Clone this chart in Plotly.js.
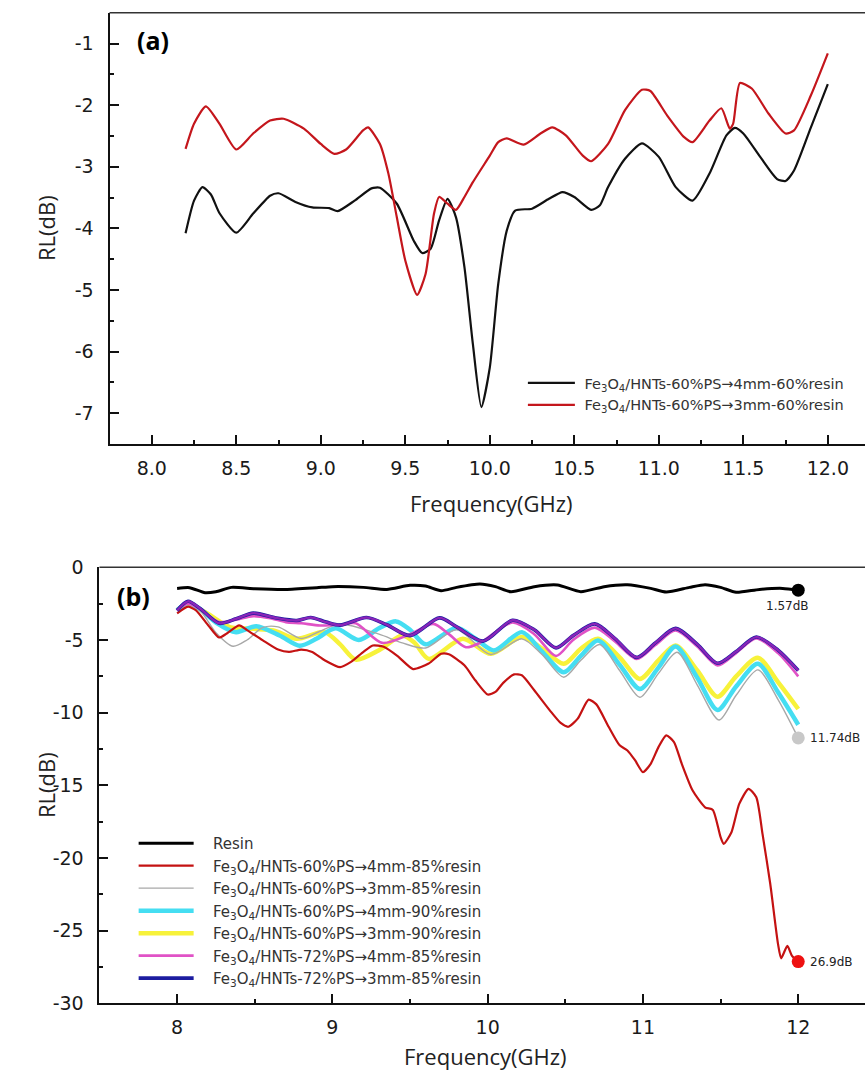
<!DOCTYPE html>
<html>
<head>
<meta charset="utf-8">
<script src="https://cdn.plot.ly/plotly-3.0.1.min.js"></script>
<style>html,body{margin:0;padding:0;background:#fff;}#chart{width:865px;height:1070px;}</style>
</head>
<body>
<div id="chart"></div>
<script>
// ---------- Panel (a) data ----------
var freqA4 = [8.2, 8.25, 8.3, 8.35, 8.4, 8.5, 8.6, 8.7, 8.75, 8.85, 8.95, 9.05, 9.1, 9.2, 9.3, 9.35, 9.45, 9.55, 9.6, 9.65, 9.7, 9.75, 9.8, 9.85, 9.9, 9.95, 10.0, 10.05, 10.1, 10.15, 10.25, 10.35, 10.43, 10.5, 10.6, 10.65, 10.7, 10.8, 10.9, 11.0, 11.1, 11.2, 11.3, 11.4, 11.45, 11.5, 11.6, 11.7, 11.75, 11.8, 11.9, 12.0];
var rlA4 = [-4.08, -3.55, -3.33, -3.45, -3.75, -4.07, -3.76, -3.47, -3.43, -3.57, -3.66, -3.67, -3.72, -3.55, -3.35, -3.34, -3.6, -4.2, -4.4, -4.33, -3.87, -3.52, -3.82, -4.63, -5.88, -6.9, -6.26, -4.9, -4.04, -3.71, -3.68, -3.52, -3.41, -3.49, -3.7, -3.63, -3.33, -2.87, -2.62, -2.84, -3.33, -3.55, -3.11, -2.49, -2.37, -2.46, -2.84, -3.2, -3.23, -3.06, -2.36, -1.66];
var freqA3 = [8.2, 8.25, 8.32, 8.4, 8.5, 8.6, 8.7, 8.78, 8.9, 9.0, 9.08, 9.15, 9.25, 9.28, 9.35, 9.4, 9.45, 9.5, 9.57, 9.62, 9.67, 9.7, 9.75, 9.8, 9.85, 9.9, 10.0, 10.05, 10.1, 10.2, 10.3, 10.37, 10.45, 10.55, 10.6, 10.7, 10.8, 10.9, 10.95, 11.05, 11.15, 11.2, 11.3, 11.37, 11.42, 11.44, 11.48, 11.55, 11.65, 11.75, 11.8, 11.9, 12.0];
var rlA3 = [-2.71, -2.3, -2.02, -2.3, -2.72, -2.46, -2.25, -2.22, -2.38, -2.63, -2.79, -2.72, -2.41, -2.36, -2.63, -3.11, -3.82, -4.52, -5.08, -4.74, -3.76, -3.49, -3.6, -3.7, -3.49, -3.25, -2.82, -2.6, -2.54, -2.64, -2.46, -2.36, -2.49, -2.82, -2.91, -2.63, -2.08, -1.75, -1.77, -2.17, -2.52, -2.6, -2.25, -2.05, -2.38, -2.3, -1.64, -1.73, -2.14, -2.46, -2.41, -1.84, -1.16];
var namesA = ["Fe<sub>3</sub>O<sub>4</sub>/HNTs-60%PS\u21924mm-60%resin", "Fe<sub>3</sub>O<sub>4</sub>/HNTs-60%PS\u21923mm-60%resin"];

// ---------- Panel (b) data ----------
var freqResin = [8.0, 8.08, 8.18, 8.25, 8.35, 8.5, 8.7, 8.9, 9.0, 9.2, 9.35, 9.5, 9.6, 9.7, 9.8, 9.95, 10.05, 10.15, 10.3, 10.45, 10.6, 10.75, 10.9, 11.05, 11.15, 11.3, 11.4, 11.5, 11.6, 11.75, 11.9, 12.0];
var rlResin = [-1.45, -1.4, -1.75, -1.68, -1.38, -1.47, -1.52, -1.4, -1.33, -1.38, -1.52, -1.24, -1.29, -1.61, -1.38, -1.15, -1.33, -1.68, -1.33, -1.22, -1.68, -1.33, -1.2, -1.45, -1.7, -1.38, -1.2, -1.38, -1.72, -1.52, -1.45, -1.57];

var freqR485 = [8.0, 8.07, 8.12, 8.2, 8.27, 8.32, 8.4, 8.45, 8.55, 8.65, 8.72, 8.8, 8.87, 8.95, 9.05, 9.12, 9.2, 9.26, 9.33, 9.42, 9.52, 9.62, 9.7, 9.75, 9.85, 9.92, 10.0, 10.05, 10.1, 10.17, 10.22, 10.3, 10.4, 10.47, 10.52, 10.58, 10.65, 10.7, 10.78, 10.85, 10.9, 10.95, 11.0, 11.05, 11.1, 11.15, 11.2, 11.25, 11.32, 11.4, 11.45, 11.5, 11.52, 11.57, 11.62, 11.68, 11.73, 11.77, 11.82, 11.87, 11.89, 11.93, 11.96, 12.0];
var rlR485 = [-3.17, -2.71, -2.94, -3.98, -4.83, -4.55, -4.0, -4.32, -5.01, -5.66, -5.82, -5.66, -5.82, -6.39, -6.87, -6.51, -5.82, -5.38, -5.47, -6.11, -7.0, -6.62, -5.95, -5.98, -6.74, -7.77, -8.75, -8.57, -7.95, -7.37, -7.43, -8.46, -9.84, -10.71, -10.97, -10.41, -9.1, -9.43, -10.99, -12.25, -12.6, -13.29, -14.09, -13.52, -12.37, -11.56, -12.02, -13.52, -15.36, -16.51, -16.69, -18.57, -19.03, -18.23, -16.28, -15.24, -15.82, -18.34, -21.79, -25.93, -26.9, -26.05, -26.74, -27.13];

var freqG385 = [8.0, 8.07, 8.15, 8.25, 8.36, 8.45, 8.55, 8.65, 8.8, 8.92, 9.05, 9.3, 9.45, 9.6, 9.8, 10.02, 10.22, 10.35, 10.49, 10.6, 10.72, 10.85, 10.98, 11.1, 11.22, 11.35, 11.49, 11.6, 11.74, 11.87, 12.0];
var rlG385 = [-3.0, -2.55, -3.0, -4.5, -5.43, -5.0, -4.15, -4.1, -4.9, -4.4, -3.9, -4.6, -5.2, -5.55, -4.3, -6.0, -4.92, -6.0, -7.56, -6.4, -5.31, -7.1, -8.94, -7.3, -5.84, -8.1, -10.51, -8.8, -7.06, -9.1, -11.74];

var freqC490 = [8.0, 8.07, 8.15, 8.25, 8.38, 8.51, 8.66, 8.79, 8.9, 9.02, 9.17, 9.3, 9.41, 9.5, 9.6, 9.8, 9.92, 10.04, 10.22, 10.35, 10.49, 10.6, 10.71, 10.85, 10.98, 11.1, 11.21, 11.35, 11.48, 11.6, 11.74, 11.87, 12.0];
var rlC490 = [-2.95, -2.45, -2.9, -3.8, -4.46, -4.05, -4.69, -5.4, -4.9, -4.2, -5.0, -4.2, -3.72, -4.3, -5.3, -4.15, -4.9, -5.72, -4.46, -5.8, -7.22, -6.1, -5.03, -6.7, -8.37, -6.9, -5.45, -7.6, -9.82, -8.2, -6.64, -8.6, -10.83];

var freqY390 = [8.0, 8.07, 8.15, 8.22, 8.34, 8.49, 8.62, 8.77, 8.95, 9.05, 9.15, 9.3, 9.45, 9.53, 9.62, 9.84, 10.02, 10.22, 10.35, 10.49, 10.6, 10.71, 10.85, 10.98, 11.1, 11.21, 11.35, 11.48, 11.6, 11.74, 11.87, 12.0];
var rlY390 = [-2.95, -2.5, -2.9, -3.35, -4.11, -4.23, -4.35, -4.92, -4.46, -5.3, -6.35, -5.7, -4.69, -5.2, -6.3, -4.92, -5.95, -4.8, -5.6, -6.64, -5.6, -4.92, -6.2, -7.68, -6.4, -5.38, -7.1, -8.9, -7.5, -6.23, -7.9, -9.75];

var freqM485 = [8.0, 8.07, 8.15, 8.27, 8.38, 8.49, 8.6, 8.7, 8.8, 8.92, 9.05, 9.15, 9.32, 9.5, 9.65, 9.75, 9.86, 9.95, 10.16, 10.3, 10.44, 10.55, 10.69, 10.82, 10.96, 11.08, 11.21, 11.35, 11.48, 11.6, 11.73, 11.87, 12.0];
var rlM485 = [-2.9, -2.5, -2.9, -3.77, -3.6, -3.36, -3.5, -3.77, -3.85, -4.0, -3.95, -3.85, -5.2, -4.6, -3.89, -4.6, -5.5, -5.2, -3.8, -4.6, -6.1, -5.0, -4.15, -5.1, -6.3, -5.35, -4.35, -5.45, -6.75, -5.9, -4.9, -5.9, -7.5];

var freqP385 = [8.0, 8.07, 8.15, 8.27, 8.38, 8.49, 8.64, 8.77, 8.86, 8.96, 9.05, 9.22, 9.35, 9.5, 9.69, 9.8, 9.97, 10.16, 10.3, 10.44, 10.55, 10.69, 10.82, 10.96, 11.08, 11.21, 11.35, 11.48, 11.6, 11.73, 11.87, 12.0];
var rlP385 = [-2.97, -2.34, -2.85, -3.85, -3.54, -3.15, -3.49, -3.66, -3.45, -3.77, -3.98, -3.45, -3.95, -4.7, -3.48, -4.1, -5.08, -3.64, -4.3, -5.54, -4.7, -3.89, -4.9, -6.2, -5.2, -4.2, -5.3, -6.6, -5.8, -4.8, -5.7, -7.1];

var namesB = ["Resin",
  "Fe<sub>3</sub>O<sub>4</sub>/HNTs-60%PS\u21924mm-85%resin",
  "Fe<sub>3</sub>O<sub>4</sub>/HNTs-60%PS\u21923mm-85%resin",
  "Fe<sub>3</sub>O<sub>4</sub>/HNTs-60%PS\u21924mm-90%resin",
  "Fe<sub>3</sub>O<sub>4</sub>/HNTs-60%PS\u21923mm-90%resin",
  "Fe<sub>3</sub>O<sub>4</sub>/HNTs-72%PS\u21924mm-85%resin",
  "Fe<sub>3</sub>O<sub>4</sub>/HNTs-72%PS\u21923mm-85%resin"];
var endLabels = ["1.57dB", "11.74dB", "26.9dB"];

// ---------- tick labels ----------
var ticksAx = [8.0, 8.5, 9.0, 9.5, 10.0, 10.5, 11.0, 11.5, 12.0];
var ticksAxText = ["8.0", "8.5", "9.0", "9.5", "10.0", "10.5", "11.0", "11.5", "12.0"];
var ticksAy = [-1, -2, -3, -4, -5, -6, -7];
var ticksAyText = ["-1", "-2", "-3", "-4", "-5", "-6", "-7"];
var ticksBx = [8, 9, 10, 11, 12];
var ticksBxText = ["8", "9", "10", "11", "12"];
var ticksBy = [0, -5, -10, -15, -20, -25, -30];
var ticksByText = ["0", "-5", "-10", "-15", "-20", "-25", "-30"];

function last(a) { return a[a.length - 1]; }
var padA = "\u00a0";
var padB = "\u00a0\u00a0\u00a0";

var tickFont = {family: "DejaVu Sans", size: 19, color: "#1a1a1a"};
var titleFont = {family: "Open Sans", size: 22, color: "#222"};

var traces = [
  {x: freqA4, y: rlA4, xaxis: "x", yaxis: "y", mode: "lines", name: padA + namesA[0], line: {color: "#111111", width: 2.2, shape: "spline", smoothing: 0.6}, legend: "legend"},
  {x: freqA3, y: rlA3, xaxis: "x", yaxis: "y", mode: "lines", name: padA + namesA[1], line: {color: "#c4161c", width: 2.2, shape: "spline", smoothing: 0.6}, legend: "legend"},

  {x: freqY390, y: rlY390, xaxis: "x2", yaxis: "y2", mode: "lines", name: padB + namesB[4], legendrank: 5, legendgroup: "g5", line: {color: "#f7f23a", width: 4.5, shape: "spline", smoothing: 0.8}, legend: "legend2"},
  {x: freqC490, y: rlC490, xaxis: "x2", yaxis: "y2", mode: "lines", name: padB + namesB[3], legendrank: 4, legendgroup: "g4", line: {color: "#45def2", width: 4.5, shape: "spline", smoothing: 0.8}, legend: "legend2"},
  {x: freqG385, y: rlG385, xaxis: "x2", yaxis: "y2", mode: "lines", name: padB + namesB[2], legendrank: 3, legendgroup: "g3", line: {color: "#a8a8a8", width: 1.4, shape: "spline", smoothing: 0.8}, legend: "legend2"},
  {x: freqR485, y: rlR485, xaxis: "x2", yaxis: "y2", mode: "lines", name: padB + namesB[1], legendrank: 2, legendgroup: "g2", line: {color: "#c41212", width: 2.2, shape: "spline", smoothing: 0.6}, legend: "legend2"},
  {x: freqM485, y: rlM485, xaxis: "x2", yaxis: "y2", mode: "lines", name: padB + namesB[5], legendrank: 6, legendgroup: "g6", line: {color: "#e052c6", width: 2.6, shape: "spline", smoothing: 0.8}, legend: "legend2"},
  {x: freqP385, y: rlP385, xaxis: "x2", yaxis: "y2", mode: "lines", name: padB + namesB[6], legendrank: 7, legendgroup: "g7", line: {color: "#1c1ca0", width: 3.6, shape: "spline", smoothing: 0.8}, legend: "legend2"},
  {x: freqP385, y: rlP385, xaxis: "x2", yaxis: "y2", mode: "lines", showlegend: false, hoverinfo: "skip", line: {color: "#8a24b8", width: 2.4, shape: "spline", smoothing: 0.8}},
  {x: freqResin, y: rlResin, xaxis: "x2", yaxis: "y2", mode: "lines", name: padB + namesB[0], legendrank: 1, legendgroup: "g1", line: {color: "#000000", width: 3, shape: "spline", smoothing: 0.6}, legend: "legend2"},

  {x: [last(freqResin), last(freqG385), last(freqR485)], y: [last(rlResin), last(rlG385), last(rlR485)], xaxis: "x2", yaxis: "y2", mode: "markers", showlegend: false,
   marker: {size: 13, color: ["#000000", "#c8c8c8", "#ee1111"]}}
];

function ann(text, x, y, font, extra) {
  var a = {text: text, xref: "paper", yref: "paper", x: x / 865, y: 1 - y / 1070, xanchor: "center", yanchor: "middle", showarrow: false, font: font};
  for (var k in (extra || {})) a[k] = extra[k];
  return a;
}

var layout = {
  width: 865, height: 1070,
  margin: {l: 0, r: 0, t: 0, b: 0},
  paper_bgcolor: "#ffffff", plot_bgcolor: "#ffffff",
  showlegend: true,
  xaxis: {domain: [0.1266, 1.0], range: [7.75, 12.22], anchor: "y",
    showline: true, linecolor: "#111", linewidth: 2, showgrid: false, zeroline: false,
    ticks: "inside", ticklen: 9, tickwidth: 2, tickcolor: "#111",
    tickvals: ticksAx, ticktext: ticksAxText, tickfont: tickFont, ticklabelstandoff: 6,
    minor: {ticks: "inside", ticklen: 4, tickwidth: 2, tickcolor: "#111", tick0: 8.25, dtick: 0.5}},
  yaxis: {domain: [0.5850, 0.9881], range: [-7.5, -0.5], anchor: "x",
    showline: true, linecolor: "#111", linewidth: 2, showgrid: false, zeroline: false,
    ticks: "inside", ticklen: 9, tickwidth: 2, tickcolor: "#111",
    tickvals: ticksAy, ticktext: ticksAyText, tickfont: tickFont, ticklabelstandoff: 10,
    minor: {ticks: "inside", ticklen: 4, tickwidth: 2, tickcolor: "#111", tick0: -0.5, dtick: 1}},
  xaxis2: {domain: [0.1150, 1.0], range: [7.5, 12.43], anchor: "y2",
    showline: true, linecolor: "#111", linewidth: 2, showgrid: false, zeroline: false,
    ticks: "inside", ticklen: 9, tickwidth: 2, tickcolor: "#111",
    tickvals: ticksBx, ticktext: ticksBxText, tickfont: tickFont, ticklabelstandoff: 6,
    minor: {ticks: "inside", ticklen: 4, tickwidth: 2, tickcolor: "#111", tick0: 8.5, dtick: 1}},
  yaxis2: {domain: [0.0623, 0.4698], range: [-30, 0], anchor: "x2",
    showline: true, linecolor: "#111", linewidth: 2, showgrid: false, zeroline: false,
    ticks: "inside", ticklen: 9, tickwidth: 2, tickcolor: "#111",
    tickvals: ticksBy, ticktext: ticksByText, tickfont: tickFont, ticklabelstandoff: 10,
    minor: {ticks: "inside", ticklen: 4, tickwidth: 2, tickcolor: "#111", tick0: -2.5, dtick: 5}},
  legend: {x: 0.6045, xanchor: "left", y: 0.657, yanchor: "top", bgcolor: "rgba(0,0,0,0)",
    font: {family: "DejaVu Sans", size: 14.5, color: "#333"}, itemwidth: 47, tracegroupgap: 2},
  legend2: {x: 0.1545, xanchor: "left", y: 0.2272, yanchor: "top", bgcolor: "rgba(0,0,0,0)",
    font: {family: "DejaVu Sans", size: 15, color: "#333"}, itemwidth: 55, tracegroupgap: 2.5, traceorder: "normal"},
  shapes: [
    {type: "line", xref: "x domain", yref: "y domain", x0: 0, x1: 1, y0: 1, y1: 1, line: {color: "#333", width: 1.5}},
    {type: "line", xref: "x2 domain", yref: "y2 domain", x0: 0, x1: 1, y0: 1, y1: 1, line: {color: "#333", width: 1.5}}
  ],
  annotations: [
    ann("<b>(a)</b>", 153, 40, {family: "Open Sans", size: 25, color: "#000"}),
    ann("<b>(b)</b>", 133, 596, {family: "Open Sans", size: 25, color: "#000"}),
    ann("RL(dB)", 46, 228, titleFont, {textangle: -90}),
    ann("RL(dB)", 46, 785, titleFont, {textangle: -90}),
    ann("Frequency(GHz)", 491, 503, titleFont),
    ann("Frequency(GHz)", 485, 1056, titleFont),
    {text: endLabels[0], xref: "x2", yref: "y2", x: 11.93, y: last(rlResin) - 1.1, xanchor: "center", yanchor: "middle", showarrow: false, font: {family: "DejaVu Sans", size: 12, color: "#222"}},
    {text: endLabels[1], xref: "x2", yref: "y2", x: 12.06, xanchor: "left", yanchor: "middle", y: last(rlG385), showarrow: false, font: {family: "DejaVu Sans", size: 12, color: "#222"}},
    {text: endLabels[2], xref: "x2", yref: "y2", x: 12.06, xanchor: "left", yanchor: "middle", y: last(rlR485), showarrow: false, font: {family: "DejaVu Sans", size: 12, color: "#222"}}
  ]
};

Plotly.newPlot("chart", traces, layout, {displayModeBar: false, staticPlot: true});
</script>
</body>
</html>
